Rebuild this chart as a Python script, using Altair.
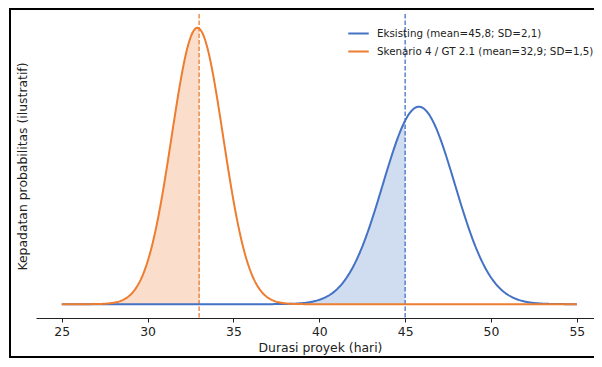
import numpy as np
import pandas as pd
import altair as alt

# Scenario parameters (from legend)
series_names = ["Eksisting (mean=45,8; SD=2,1)", "Skenario 4 / GT 2.1 (mean=32,9; SD=1,5)"]
series_means = [45.8, 32.9]
series_sds = [2.1, 1.5]
series_colors = ["#4472C4", "#ED7D31"]
shade_upto = [45, 33]          # shaded region upper bound / dashed marker
x_range = [25, 55]
x_ticks = [25, 30, 35, 40, 45, 50, 55]

xs = np.linspace(x_range[0], x_range[1], 601)
rows = []
for name, m, s, cut in zip(series_names, series_means, series_sds, shade_upto):
    pdf = np.exp(-0.5 * ((xs - m) / s) ** 2) / (s * np.sqrt(2 * np.pi))
    for x, y in zip(xs, pdf):
        rows.append({"x": float(x), "y": float(y), "series": name, "shade": bool(x <= cut + 1e-9)})
df = pd.DataFrame(rows)
ymax = df["y"].max()
ydom = [-0.05 * ymax, 1.05 * ymax]

vlines = pd.DataFrame({"x": shade_upto, "series": series_names})

W, H = 558, 304
FS = 12.4
xscale = alt.Scale(domain=[23.5, 56.0], nice=False, zero=False)
yscale = alt.Scale(domain=ydom, nice=False, zero=False)
cscale = alt.Scale(domain=series_names, range=series_colors)

xenc = alt.X("x:Q", scale=xscale,
             axis=alt.Axis(title="Durasi proyek (hari)", values=x_ticks,
                           grid=False, tickSize=4, domainColor="#222", tickColor="#222",
                           labelFontSize=FS, labelColor="#222", titleFontSize=FS,
                           titleFontWeight="normal", titleColor="#222", labelPadding=3,
                           titlePadding=4, titleX=284, labelFont="DejaVu Sans", titleFont="DejaVu Sans"))
yenc = alt.Y("y:Q", scale=yscale,
             axis=alt.Axis(title="Kepadatan probabilitas (ilustratif)", labels=False, ticks=False,
                           domain=False, grid=False, titleFontSize=FS, titleFontWeight="normal",
                           titleColor="#222", titlePadding=7, titleFont="DejaVu Sans"))
cenc = alt.Color("series:N", scale=cscale,
                 legend=alt.Legend(title=None, orient="none", legendX=311, legendY=8,
                                   symbolType="stroke", symbolStrokeWidth=2, symbolSize=420,
                                   symbolOpacity=1, labelOffset=7,
                                   labelFontSize=10.3, labelColor="#222", labelFont="DejaVu Sans",
                                   rowPadding=1, labelLimit=400))

area = alt.Chart(df).transform_filter(alt.datum.shade).mark_area(opacity=0.25).encode(
    x=xenc, y=yenc, color=cenc, detail="series:N")

vrule = alt.Chart(vlines).mark_rule(strokeDash=[4.5, 2], strokeWidth=1.3).encode(
    x=xenc, color=cenc)

lines = alt.Chart(df).mark_line(strokeWidth=2).encode(
    x=xenc, y=yenc, color=cenc, order=alt.Order("series:N"))

one = pd.DataFrame({"a": [0]})
frame_left = alt.Chart(one).mark_rule(stroke="black", strokeWidth=2, clip=False).encode(
    x=alt.value(-26), y=alt.value(-5), y2=alt.value(H + 39))
frame_top = alt.Chart(one).mark_rule(stroke="black", strokeWidth=2, clip=False).encode(
    x=alt.value(-27), x2=alt.value(W + 8), y=alt.value(-5))
frame_bottom = alt.Chart(one).mark_rule(stroke="black", strokeWidth=2, clip=False).encode(
    x=alt.value(-27), x2=alt.value(W + 8), y=alt.value(H + 39))

chart = alt.layer(area, vrule, lines, frame_left, frame_top, frame_bottom).properties(
    width=W, height=H,
    autosize=alt.AutoSizeParams(type="none"),
    padding={"left": 28, "top": 6, "right": 0, "bottom": 41},
).configure(background="white").configure_view(stroke=None)

chart.save("out.html", embed_options={"renderer": "svg", "actions": False})
